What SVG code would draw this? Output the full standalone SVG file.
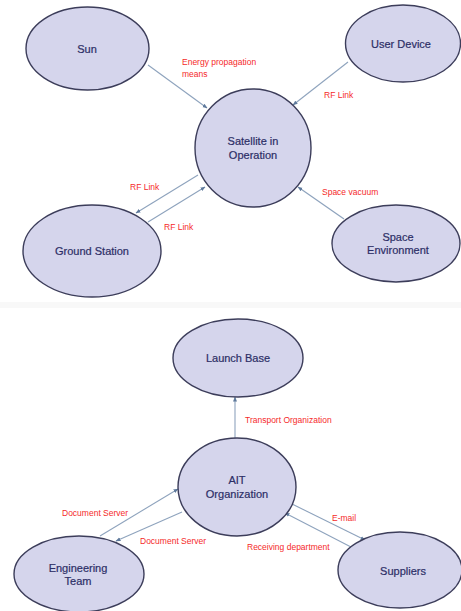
<svg xmlns="http://www.w3.org/2000/svg" width="461" height="611" viewBox="0 0 461 611">
  <style>
    .node ellipse { fill: #d5d5ec; stroke: #3c3d5a; stroke-width: 1.4; }
    .node text { font-family: "Liberation Sans", Arial, sans-serif; font-size: 11px; fill: #2c2e66; text-anchor: middle; stroke: #2c2e66; stroke-width: 0.2; }
    .edges line { stroke: #8ea3bd; stroke-width: 1.1; marker-end: url(#arrow); }
    .lbl { font-family: "Liberation Sans", Arial, sans-serif; font-size: 8.5px; fill: #f52a2a; }
  </style>
  <defs>
    <marker id="arrow" viewBox="0 0 10 10" refX="9" refY="5" markerWidth="5" markerHeight="5" orient="auto" markerUnits="userSpaceOnUse">
      <path d="M0,1 L10,5 L0,9 Z" fill="#5f7a9c"/>
    </marker>
  </defs>
  <rect width="461" height="611" fill="#ffffff"/>
  <!-- faint band between the two panels -->
  <rect x="0" y="302" width="461" height="6" fill="#f8f8f8"/>

  <!-- connectors -->
  <g id="connectors" class="edges">
    <line x1="148" y1="65" x2="207" y2="108"/>
    <line x1="348" y1="62" x2="293" y2="105"/>
    <line x1="198" y1="175" x2="136" y2="213"/>
    <line x1="148" y1="222" x2="205" y2="187"/>
    <line x1="344" y1="219" x2="298" y2="187"/>
    <line x1="235" y1="438" x2="235" y2="397"/>
    <line x1="100" y1="536" x2="178" y2="489"/>
    <line x1="182" y1="512" x2="116" y2="541"/>
    <line x1="288" y1="502" x2="365" y2="540"/>
    <line x1="351" y1="547" x2="285" y2="513"/>
  </g>

  <!-- connector labels -->
  <g id="labels">
    <text class="lbl" x="182" y="65">Energy propagation</text>
    <text class="lbl" x="182" y="77">means</text>
    <text class="lbl" x="324" y="98">RF Link</text>
    <text class="lbl" x="130" y="190">RF Link</text>
    <text class="lbl" x="164" y="230">RF Link</text>
    <text class="lbl" x="322" y="195">Space vacuum</text>
    <text class="lbl" x="245" y="423">Transport Organization</text>
    <text class="lbl" x="62" y="516">Document Server</text>
    <text class="lbl" x="140" y="544">Document Server</text>
    <text class="lbl" x="332" y="521">E-mail</text>
    <text class="lbl" x="247" y="550">Receiving department</text>
  </g>

  <!-- nodes -->
  <g id="sun" class="node">
    <ellipse cx="87.5" cy="48.5" rx="61.5" ry="41.5"/>
    <text x="87" y="53">Sun</text>
  </g>
  <g id="user-device" class="node">
    <ellipse cx="403" cy="43.5" rx="57.5" ry="38.5"/>
    <text x="401" y="48">User Device</text>
  </g>
  <g id="satellite" class="node">
    <ellipse cx="253" cy="148" rx="58" ry="59"/>
    <text x="253" y="145">Satellite in</text>
    <text x="253" y="159">Operation</text>
  </g>
  <g id="ground-station" class="node">
    <ellipse cx="92" cy="251" rx="69" ry="46"/>
    <text x="92" y="255">Ground Station</text>
  </g>
  <g id="space-environment" class="node">
    <ellipse cx="396" cy="243.5" rx="64" ry="38.5"/>
    <text x="398" y="241">Space</text>
    <text x="398" y="254">Environment</text>
  </g>
  <g id="launch-base" class="node">
    <ellipse cx="238" cy="358" rx="65" ry="39"/>
    <text x="238" y="362">Launch Base</text>
  </g>
  <g id="ait-organization" class="node">
    <ellipse cx="237" cy="487" rx="59" ry="49"/>
    <text x="237" y="484">AIT</text>
    <text x="237" y="498">Organization</text>
  </g>
  <g id="engineering-team" class="node">
    <ellipse cx="79" cy="574" rx="65" ry="38"/>
    <text x="78" y="572">Engineering</text>
    <text x="78" y="585">Team</text>
  </g>
  <g id="suppliers" class="node">
    <ellipse cx="400" cy="570" rx="62" ry="38"/>
    <text x="403" y="575">Suppliers</text>
  </g>
</svg>
